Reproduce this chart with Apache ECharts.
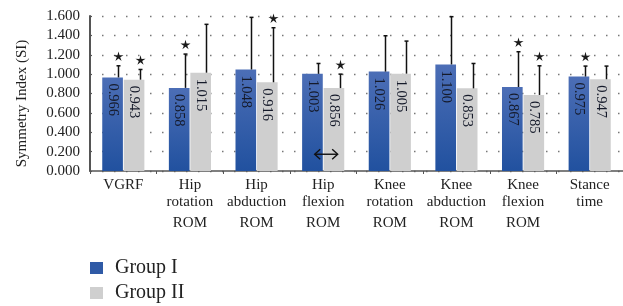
<!DOCTYPE html>
<html>
<head>
<meta charset="utf-8">
<script src="https://cdn.jsdelivr.net/npm/echarts@6/dist/echarts.min.js"></script>
<style>
  html, body { margin: 0; padding: 0; background: #fff; }
  #chart { width: 623px; height: 306px; }
</style>
</head>
<body>
<div id="chart"></div>
<script>
var categories = ['VGRF', 'Hip\nrotation\nROM', 'Hip\nabduction\nROM', 'Hip\nflexion\nROM',
    'Knee\nrotation\nROM', 'Knee\nabduction\nROM', 'Knee\nflexion\nROM', 'Stance\ntime'];
var group1 = [0.966, 0.858, 1.048, 1.003, 1.026, 1.100, 0.867, 0.975];
var group2 = [0.943, 1.015, 0.916, 0.856, 1.005, 0.853, 0.785, 0.947];
// upper end of the error bars
var errTop1 = [1.086, 1.207, 1.586, 1.110, 1.396, 1.593, 1.231, 1.083];
var errTop2 = [1.048, 1.514, 1.479, 1.000, 1.341, 1.110, 1.086, 1.083];
// significance stars
var star1 = [1, 1, 0, 0, 0, 0, 1, 1];
var star2 = [1, 0, 1, 1, 0, 0, 1, 0];
var arrowPoint = [3, 0.173];
var yTicks = { min: 0, max: 1.6, interval: 0.2 };

var FONT = 'Liberation Serif';
var BAR_W = 0.31, BAR_GAP = 0.04;

var errData = [];
categories.forEach(function (c, i) {
    errData.push([i, group1[i], errTop1[i], star1[i], 0]);
    errData.push([i, group2[i], errTop2[i], star2[i], 1]);
});

function starPoints(cx, cy, r, r0) {
    var pts = [];
    for (var k = 0; k < 10; k++) {
        var a = -Math.PI / 2 + k * Math.PI / 5;
        var rr = k % 2 === 0 ? r : r0;
        pts.push([cx + rr * Math.cos(a), cy + rr * Math.sin(a)]);
    }
    return pts;
}

function renderErr(params, api) {
    var idx = api.value(0), grp = api.value(4);
    var band = api.size([1, 0])[0];
    var bw = band * BAR_W, gap = bw * BAR_GAP;
    var base = api.coord([idx, api.value(1)]);
    var top = api.coord([idx, api.value(2)]);
    var barCx = base[0] + (grp === 0 ? -(gap / 2 + bw / 2) : (gap / 2 + bw / 2));
    var x = Math.round(barCx + bw * 0.27) + 0.5;
    var style = { stroke: '#111', lineWidth: 1.5 };
    var children = [
        { type: 'line', shape: { x1: x, y1: base[1], x2: x, y2: top[1] }, style: style },
        { type: 'line', shape: { x1: x - 2, y1: top[1], x2: x + 2, y2: top[1] }, style: style }
    ];
    if (api.value(3)) {
        children.push({
            type: 'polygon',
            shape: { points: starPoints(x, top[1] - 9, 5.3, 1.8) },
            style: { fill: '#1a1a1a' }
        });
    }
    return { type: 'group', children: children };
}

function renderArrow(params, api) {
    var p = api.coord([api.value(0), api.value(1)]);
    var cx = p[0] + 3, cy = p[1];
    var st = { stroke: '#111', lineWidth: 1.4, fill: null };
    return {
        type: 'group',
        children: [
            { type: 'line', shape: { x1: cx - 11, y1: cy, x2: cx + 11, y2: cy }, style: st },
            { type: 'polyline', shape: { points: [[cx - 6, cy - 5], [cx - 11.5, cy], [cx - 6, cy + 5]] }, style: st },
            { type: 'polyline', shape: { points: [[cx + 6, cy - 5], [cx + 11.5, cy], [cx + 6, cy + 5]] }, style: st }
        ]
    };
}

var barLabel = {
    show: true,
    position: 'insideTop',
    distance: 6,
    rotate: -90,
    align: 'left',
    verticalAlign: 'middle',
    fontFamily: FONT,
    fontSize: 14.5,
    color: '#151a2a',
    formatter: function (p) { return p.value.toFixed(3); }
};

var chart = echarts.init(document.getElementById('chart'));
chart.setOption({
    animation: false,
    textStyle: { fontFamily: FONT },
    grid: { left: 90, top: 16, right: -1, bottom: 135 },
    legend: {
        orient: 'vertical',
        left: 90,
        top: 258,
        height: 60,
        padding: 0,
        itemWidth: 13,
        itemHeight: 12,
        itemGap: 5,
        icon: 'rect',
        textStyle: { fontFamily: FONT, fontSize: 20, lineHeight: 20, color: '#222', padding: [0, 0, 0, 7] },
        data: [
            { name: 'Group I', itemStyle: { color: '#2f5aa6' } },
            { name: 'Group II', itemStyle: { color: '#cfcfcf' } }
        ]
    },
    xAxis: {
        type: 'category',
        data: categories,
        axisLine: { lineStyle: { color: '#555', width: 1.5 } },
        axisTick: { show: true, length: 3, lineStyle: { color: '#555' } },
        axisLabel: {
            interval: 0,
            margin: 6,
            verticalAlign: 'top',
            color: '#222',
            formatter: function (v) {
                var lines = v.split('\n');
                return lines.map(function (l) {
                    return l === 'ROM' ? '{b|' + l + '}' : '{a|' + l + '}';
                }).join('\n');
            },
            rich: {
                a: { fontFamily: FONT, fontSize: 15, lineHeight: 17, color: '#222' },
                b: { fontFamily: FONT, fontSize: 15, lineHeight: 25, color: '#222' }
            }
        }
    },
    yAxis: {
        type: 'value',
        min: yTicks.min,
        max: yTicks.max,
        interval: yTicks.interval,
        name: 'Symmetry Index (SI)',
        nameLocation: 'middle',
        nameGap: 60,
        nameTextStyle: { fontFamily: FONT, fontSize: 15, color: '#222', padding: [0, 20, 0, 0] },
        axisLine: { show: true, lineStyle: { color: '#555', width: 2 } },
        axisTick: { show: true, inside: true, length: 2, lineStyle: { color: '#555' } },
        axisLabel: {
            margin: 10,
            fontFamily: FONT,
            fontSize: 15,
            color: '#222',
            formatter: function (v) { return v.toFixed(3); }
        },
        splitLine: { show: true, lineStyle: { color: '#777', width: 1.3, type: [1.5, 10.5] } }
    },
    series: [
        {
            name: 'Group I',
            type: 'bar',
            barWidth: (BAR_W * 100) + '%',
            barGap: (BAR_GAP * 100) + '%',
            data: group1,
            itemStyle: {
                color: new echarts.graphic.LinearGradient(0, 0, 0, 1, [
                    { offset: 0, color: '#4c6eb6' },
                    { offset: 1, color: '#21519f' }
                ])
            },
            label: barLabel
        },
        {
            name: 'Group II',
            type: 'bar',
            barWidth: (BAR_W * 100) + '%',
            data: group2,
            itemStyle: { color: '#cfcfcf' },
            label: barLabel
        },
        {
            type: 'custom',
            renderItem: renderErr,
            data: errData,
            z: 5,
            silent: true
        },
        {
            type: 'custom',
            renderItem: renderArrow,
            data: [arrowPoint],
            z: 6,
            silent: true
        }
    ]
});
</script>
</body>
</html>
